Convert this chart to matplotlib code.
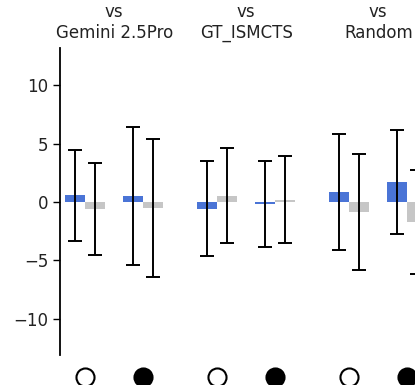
import numpy as np
import matplotlib
matplotlib.use("Agg")
import matplotlib.pyplot as plt
import matplotlib.transforms as mtransforms

# opponents (one group each), two settings per group (open / filled circle)
opponents = ["Gemini 2.5Pro", "GT_ISMCTS", "Random"]
settings = ["open", "filled"]

# mean score and error, blue = player, gray = opponent
blue_mean = [0.57, 0.50, -0.57, -0.18, 0.86, 1.72]
blue_err = [3.93, 5.93, 4.08, 3.70, 5.00, 4.49]
gray_mean = [-0.57, -0.50, 0.56, 0.20, -0.86, -1.70]
gray_err = [3.95, 5.90, 4.10, 3.72, 5.00, 4.47]

yticks = [-10, -5, 0, 5, 10]

fig = plt.figure(figsize=(4.15, 3.85), dpi=100)
ax = fig.add_axes([60/415, 30/385, 420/415, 307/385])

off = 0.22
w = 0.152
xs = []
for g in range(len(opponents)):
    for s in range(len(settings)):
        xs.append(g + (off if s else -off))
xs = np.array(xs)

ax.bar(xs - w/2, blue_mean, width=w, color="#4a74d6", zorder=1)
ax.bar(xs + w/2, gray_mean, width=w, color="#c6c6c6", zorder=1)
ax.errorbar(xs - w/2, blue_mean, yerr=blue_err, fmt="none", ecolor="black",
            elinewidth=1.4, capsize=5, capthick=1.4, zorder=2)
ax.errorbar(xs + w/2, gray_mean, yerr=gray_err, fmt="none", ecolor="black",
            elinewidth=1.4, capsize=5, capthick=1.4, zorder=2)

ax.set_xlim(-0.41, 2.77)
ax.set_ylim(-13.1, 13.2)
ax.set_yticks(yticks)
ax.tick_params(axis="y", labelsize=12, length=5, width=1, labelcolor="#222222")
ax.set_xticks([])
for sp in ["top", "right", "bottom"]:
    ax.spines[sp].set_visible(False)
ax.spines["left"].set_linewidth(1.3)

trans = mtransforms.blended_transform_factory(ax.transData, ax.transAxes)
for i, x in enumerate(xs):
    face = "white" if i % 2 == 0 else "black"
    ax.plot([x], [-0.072], marker="o", ms=13, mfc=face, mec="black",
            mew=1.5, transform=trans, clip_on=False)

for g, name in enumerate(opponents):
    ax.text(g, 1.02, "vs\n" + name, ha="center", va="bottom", fontsize=12,
            transform=trans, linespacing=1.2, color="#222222")

fig.savefig("out.png", dpi=100)
